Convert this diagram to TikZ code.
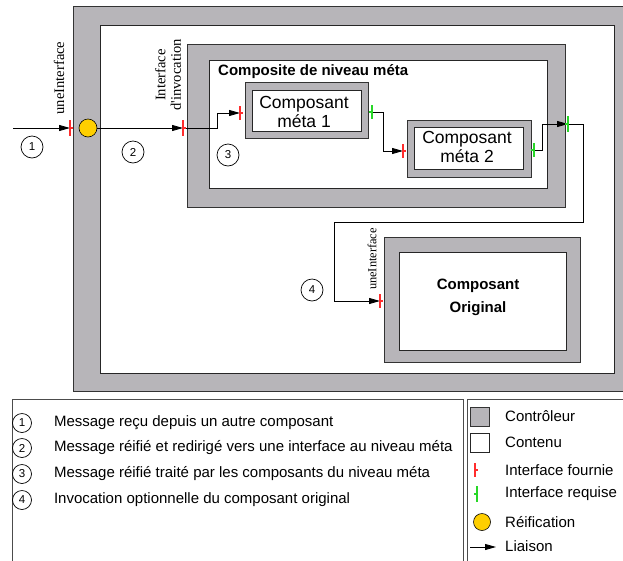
\documentclass[tikz,border=0pt]{standalone}
\usepackage{fontspec}
\setmainfont{Liberation Sans}
\newfontfamily\tnrfont{Liberation Serif}
\usetikzlibrary{arrows.meta,positioning}
\definecolor{ctrlgray}{RGB}{183,181,185}
\definecolor{reifyellow}{RGB}{255,207,0}
\definecolor{provred}{RGB}{255,45,45}
\definecolor{reqgreen}{RGB}{40,215,40}

\begin{document}
\begin{tikzpicture}[x=1pt, y=-1pt,
  ctrl/.style={draw=black!80, fill=ctrlgray, line width=0.8pt},
  cont/.style={draw=black!85, fill=white, line width=0.8pt},
  frame/.style={draw=black!70, line width=0.8pt},
  link/.style={-{Triangle[length=11pt, width=6pt]}, line width=0.8pt},
  num/.style={circle, draw, line width=0.7pt, minimum size=22pt, inner sep=0pt, font=\fontsize{11.5}{12}\selectfont},
  reif/.style={circle, draw, fill=reifyellow, line width=0.6pt, minimum size=18pt, inner sep=0pt},
  lbl/.style={anchor=west, inner sep=0pt, font=\fontsize{15}{18}\selectfont},
  vlbl/.style={rotate=90, inner sep=0pt, align=center, font=\tnrfont\fontsize{14.6}{15.5}\selectfont},
  pics/prov/.style={code={\draw[provred, line width=1.1pt] (0,-#1) -- (0,#1) (0,0) -- (3,0);}},
  pics/prov/.default=7,
  pics/req/.style={code={\draw[reqgreen, line width=1.1pt] (0,-#1) -- (0,#1) (0,0) -- (-3,0);}},
  pics/req/.default=7]
\useasboundingbox (0,0) rectangle (623,560);
\draw[ctrl] (73,6) rectangle (640,391);
\draw[cont] (100,25) rectangle (614,373);
\draw[ctrl] (187,44) rectangle (565,207);
\draw[cont] (209,60) rectangle (547,188);
\draw[ctrl] (245,82) rectangle (368,138);
\draw[cont] (252,90) rectangle (361,131);
\draw[ctrl] (407,120) rectangle (531,177);
\draw[cont] (414,127) rectangle (523,169);
\draw[ctrl] (384,237) rectangle (580,362);
\draw[cont] (399,252) rectangle (566,350);
\node[inner sep=0pt, anchor=base west, font=\bfseries\fontsize{15}{18}\selectfont] (compname) at (218,75) {Composite de niveau méta};
\node[align=center, font=\fontsize{17.5}{19.5}\selectfont] (meta1) at (304,112) {Composant\\méta 1};
\node[align=center, font=\fontsize{17.5}{19.5}\selectfont] (meta2) at (467,147) {Composant\\méta 2};
\node[align=center, font=\bfseries\fontsize{15}{23}\selectfont] (orig) at (478,297) {Composant\\Original};
\node[vlbl] (ui1) at (59,78) {uneInterface};
\node[vlbl] (invoc) at (168,75) {Interface\\d'invocation};
\node[vlbl, font=\tnrfont\fontsize{12.4}{13}\selectfont] (ui2) at (372,259) {uneInterface};
\coordinate (src) at (13,128);
\coordinate (i1) at (70,128);
\node[reif] (reif) at (88,128) {};
\coordinate (i2) at (183,128);
\coordinate (i3) at (240,113);
\coordinate (i4) at (372,112);
\coordinate (i5) at (403,151);
\coordinate (i6) at (534,150);
\coordinate (i7) at (568,124);
\coordinate (i8) at (380,301);
\draw[link] (src) -- (i1);
\draw[link] (reif) -- (i2);
\draw[link] (i2) -- ++(34,0) |- (i3);
\draw[link] (i4) -- ++(11,0) |- (i5);
\draw[link] (i6) -- ++(8,0) |- (i7);
\draw[link] (i7) -- ++(15,0) |- (334,222) |- (i8);
\pic at (i1) {prov=8};
\pic at (i2) {prov=8};
\pic at (i3) {prov};
\pic at (i4) {req};
\pic at (i5) {prov};
\pic at (i6) {req};
\pic at (i7) {req=8};
\pic at (i8) {prov};
\node[num] (n1) at (32,147) {1};
\node[num] (n2) at (133,152) {2};
\node[num] (n3) at (228,155) {3};
\node[num] (n4) at (312,290) {4};
\draw[frame] (12,399) rectangle (463,580);
\draw[frame] (467,399) rectangle (640,580);
\foreach \k/\txt/\y in {1/Message reçu depuis un autre composant/423, 2/Message réifié et redirigé vers une interface au niveau méta/448, 3/Message réifié traité par les composants du niveau méta/474, 4/Invocation optionnelle du composant original/500} {
  \node[num, minimum size=19pt] (key\k) at (22,\y) {\k};
  \node[lbl, right=22pt of key\k] (keytxt\k) {\txt};
}
\node[ctrl, minimum size=19pt, inner sep=0pt] (kctrl) at (479.5,416.5) {};
\node[cont, minimum size=19pt, inner sep=0pt] (kcont) at (479.5,442.5) {};
\coordinate (kprov) at (475,470);
\coordinate (kreq) at (477,494);
\node[reif, minimum size=17pt] (kreif) at (482,522) {};
\coordinate (klinkA) at (470,547);
\coordinate (klinkB) at (496,547);
\draw[link] (klinkA) -- (klinkB);
\pic at (kprov) {prov};
\pic at (kreq) {req=8};
\foreach \t/\y [count=\i] in {Contrôleur/416, Contenu/442, Interface fournie/470, Interface requise/494, Réification/522, Liaison/546}
  \node[lbl] (kname\i) at (505,\y) {\t};
\end{tikzpicture}
\end{document}
